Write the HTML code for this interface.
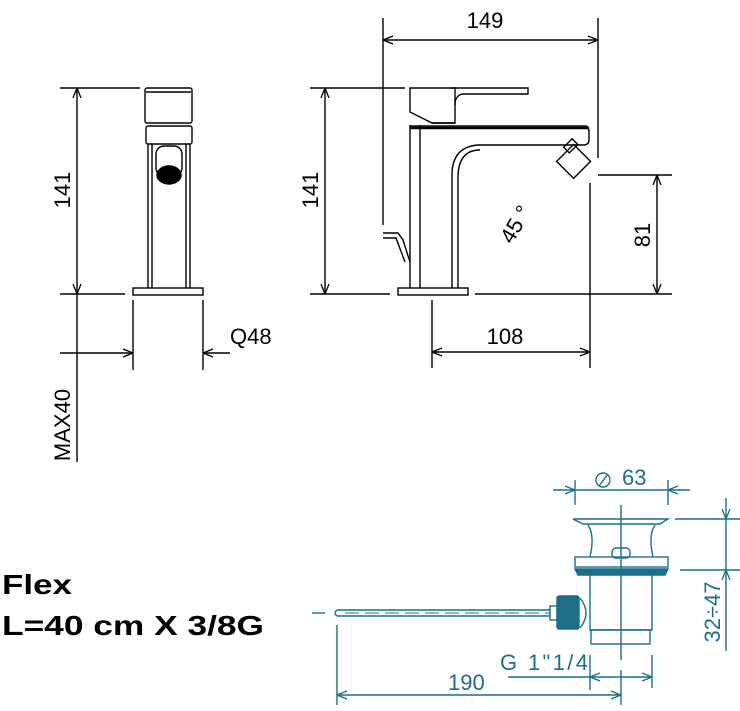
<!DOCTYPE html>
<html><head><style>body{margin:0;background:#fff}svg{display:block}</style></head><body>
<svg width="740" height="711" viewBox="0 0 740 711" xmlns="http://www.w3.org/2000/svg">
<defs>
<marker id="a" viewBox="0 0 10 10" refX="10" refY="5" markerWidth="10" markerHeight="10" orient="auto-start-reverse" markerUnits="userSpaceOnUse"><path d="M0,1 L10,5 L0,9" fill="none" stroke="#000" stroke-width="1.3"/></marker>
<marker id="t" viewBox="0 0 10 10" refX="10" refY="5" markerWidth="10" markerHeight="10" orient="auto-start-reverse" markerUnits="userSpaceOnUse"><path d="M0,1 L10,5 L0,9" fill="none" stroke="#1c6f87" stroke-width="1.3"/></marker>
</defs>
<g stroke="#000" stroke-width="1.4" fill="none">
<line x1="60" y1="88" x2="140" y2="88"/>
<line x1="60" y1="294" x2="125" y2="294"/>
<line x1="77" y1="88" x2="77" y2="294" marker-start="url(#a)" marker-end="url(#a)"/>
<line x1="77" y1="294" x2="77" y2="462"/>
<line x1="133" y1="300" x2="133" y2="370"/>
<line x1="203" y1="300" x2="203" y2="370"/>
<line x1="60" y1="353" x2="133" y2="353" marker-end="url(#a)"/>
<line x1="230" y1="353" x2="203" y2="353" marker-end="url(#a)"/>
<rect x="145" y="88" width="47" height="35" rx="2"/>
<line x1="146" y1="92" x2="191" y2="92"/>
<rect x="146" y="126" width="46" height="18" rx="2"/>
<line x1="148" y1="144" x2="148" y2="288"/><line x1="152" y1="144" x2="152" y2="288"/>
<line x1="190" y1="144" x2="190" y2="288"/><line x1="186" y1="144" x2="186" y2="288"/>
<rect x="156" y="146" width="26" height="30" rx="8"/>
<ellipse cx="169" cy="175" rx="12" ry="9" fill="#000"/>
<rect x="133" y="288" width="70" height="7"/>
<line x1="383" y1="18" x2="383" y2="225"/>
<line x1="598" y1="18" x2="598" y2="158"/>
<line x1="383" y1="40" x2="598" y2="40" marker-start="url(#a)" marker-end="url(#a)"/>
<line x1="310" y1="88" x2="405" y2="88"/>
<line x1="310" y1="294" x2="390" y2="294"/>
<line x1="325" y1="88" x2="325" y2="294" marker-start="url(#a)" marker-end="url(#a)"/>
<line x1="598" y1="175" x2="672" y2="175"/>
<line x1="475" y1="294" x2="672" y2="294"/>
<line x1="657" y1="175" x2="657" y2="294" marker-start="url(#a)" marker-end="url(#a)"/>
<line x1="432" y1="300" x2="432" y2="368"/>
<line x1="590" y1="183" x2="590" y2="368"/>
<line x1="432" y1="352" x2="590" y2="352" marker-start="url(#a)" marker-end="url(#a)"/>
<path d="M410,88 L455,88 L455,123 L432,123 L410,112 Z"/>
<path d="M452,88 L528,88 L528,94 L462,94 Q455,96 455,105"/>
<line x1="432" y1="123" x2="455" y2="123"/>
<path d="M410,125 L410,288 M420,125 L420,288"/>
<path d="M410,126 L585,126 Q589,126 589,132 L589,140 Q589,145 583,145 L478,145 Q452,147 452,175 L452,288"/>
<path d="M458,288 L458,178 Q458,150 480,150"/>
<line x1="410" y1="128" x2="589" y2="128" stroke-width="2.5"/>
<g transform="rotate(45 575 160)"><rect x="563" y="150" width="24" height="24"/><rect x="558" y="147" width="8" height="12"/></g>
<path d="M383,233 L398,233 L403,240 L410,262 M383,238 L396,238 L405,262"/>
<rect x="398" y="288" width="70" height="7"/>
</g>
<g font-family="'Liberation Sans',sans-serif" font-size="22" fill="#000">
<text x="485" y="28" text-anchor="middle">149</text>
<text x="505" y="344" text-anchor="middle">108</text>
<text x="230" y="344">Q48</text>
<text transform="translate(70 190) rotate(-90)" text-anchor="middle">141</text>
<text transform="translate(318 190) rotate(-90)" text-anchor="middle">141</text>
<text transform="translate(650 235) rotate(-90)" text-anchor="middle">81</text>
<text transform="translate(70 425) rotate(-90)" text-anchor="middle">MAX40</text>
<text transform="translate(522 228) rotate(-60)" text-anchor="middle">45 °</text>
</g>
<g stroke="#1c6f87" stroke-width="1.4" fill="none">
<line x1="575" y1="480" x2="575" y2="505"/><line x1="668" y1="480" x2="668" y2="505"/>
<line x1="553" y1="490" x2="575" y2="490" marker-end="url(#t)"/>
<line x1="690" y1="490" x2="668" y2="490" marker-end="url(#t)"/>
<line x1="575" y1="490" x2="668" y2="490"/>
<line x1="599" y1="486" x2="608" y2="474"/>
<path d="M573,519 L668,519 L660,524 L583,524 Z"/>
<path d="M588,525 Q595,535 590,557 M655,525 Q648,535 653,557"/>
<rect x="612" y="548" width="18" height="10" rx="4"/>
<rect x="575" y="557" width="93" height="10"/>
<path d="M575,569 L668,569 L665,575 L578,575 Z" fill="#1c6f87"/>
<path d="M590,575 L590,630 L652,630 L652,575"/>
<rect x="591" y="630" width="59" height="14"/>
<line x1="621" y1="505" x2="621" y2="660"/>
<path d="M580,598 Q592,613 580,628"/>
<rect x="557" y="596" width="22" height="33" rx="2" fill="#1c6f87"/>
<rect x="550" y="606" width="7" height="14"/>
<path d="M337,610 L550,610 M337,616 L550,616 M337,610 Q333,613 337,616"/>
<line x1="312" y1="613" x2="325" y2="613"/>
<line x1="345" y1="613" x2="550" y2="613" stroke-dasharray="14 6" stroke-width="1"/>
<line x1="675" y1="519" x2="740" y2="519"/><line x1="680" y1="570" x2="740" y2="570"/>
<line x1="726" y1="498" x2="726" y2="519" marker-end="url(#t)"/>
<line x1="726" y1="651" x2="726" y2="570" marker-end="url(#t)"/>
<line x1="726" y1="519" x2="726" y2="570"/>
<line x1="590" y1="655" x2="590" y2="690"/><line x1="652" y1="655" x2="652" y2="688"/>
<line x1="508" y1="677" x2="590" y2="677"/>
<line x1="590" y1="677" x2="652" y2="677" marker-start="url(#t)" marker-end="url(#t)"/>
<line x1="337" y1="625" x2="337" y2="705"/>
<line x1="337" y1="695" x2="621" y2="695" marker-start="url(#t)" marker-end="url(#t)"/>
<line x1="621" y1="670" x2="621" y2="705"/>
</g>
<g font-family="'Liberation Sans',sans-serif" font-size="22" fill="#1c6f87">
<text x="622" y="485">63</text>
<text x="500" y="670" textLength="88">G 1"1/4</text>
<text x="448" y="690">190</text>
<text transform="translate(720 612) rotate(-90)" text-anchor="middle">32÷47</text>
</g>
<ellipse cx="603" cy="480" rx="7" ry="7" fill="none" stroke="#1c6f87" stroke-width="1.4"/>
<g font-family="'Liberation Sans',sans-serif" font-size="28" font-weight="bold" fill="#000">
<text x="2" y="594" textLength="70" lengthAdjust="spacingAndGlyphs">Flex</text>
<text x="2" y="635" textLength="262" lengthAdjust="spacingAndGlyphs">L=40 cm X 3/8G</text>
</g>
</svg>
</body></html>
